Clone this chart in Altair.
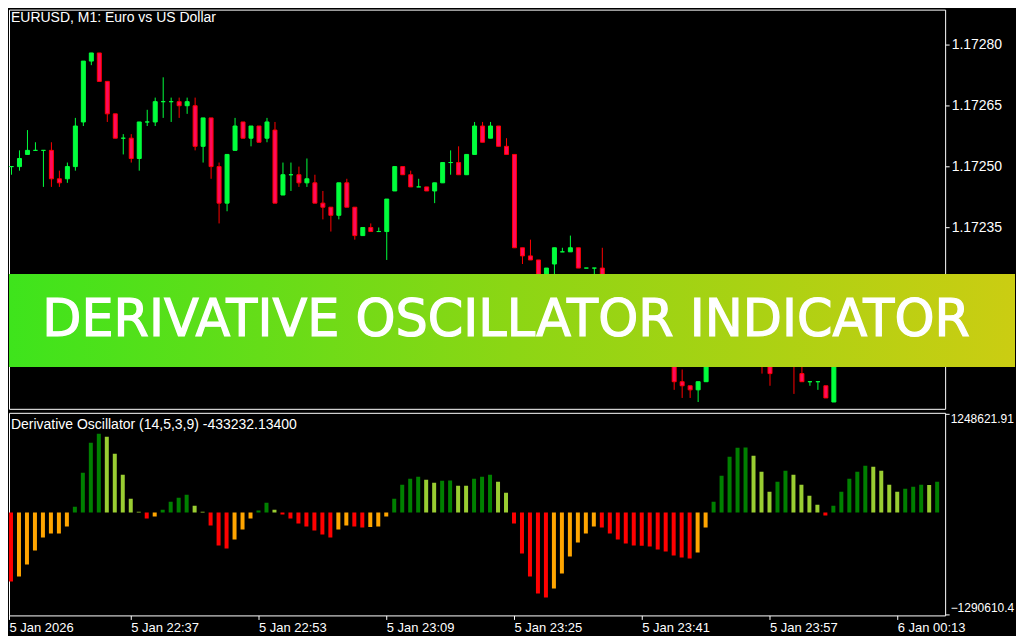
import altair as alt
import pandas as pd

# ---------------- data ----------------
time_labels = ["5 Jan 2026", "5 Jan 22:37", "5 Jan 22:53", "5 Jan 23:09",
               "5 Jan 23:25", "5 Jan 23:41", "5 Jan 23:57", "6 Jan 00:13"]

open_ = [1.17254,1.17250,1.17250,1.17253,1.17254,1.17254,1.17254,1.17247,1.17247,1.17250,
         1.17261,1.17276,1.17278,1.17271,1.17263,1.17257,1.17257,1.17252,1.17261,1.17261,
         1.17266,1.17266,1.17266,1.17265,1.17265,1.17255,1.17262,1.17250,1.17241,1.17254,
         1.17261,1.17257,1.17260,1.17257,1.17259,1.17243,1.17248,1.17248,1.17246,1.17246,
         1.17241,1.17240,1.17238,1.17246,1.17240,1.17233,1.17235,1.17234,1.17234,1.17244,
         1.17250,1.17248,1.17245,1.17245,1.17244,1.17246,1.17251,1.17251,1.17248,1.17253,
         1.17260,1.17257,1.17260,1.17255,1.17253,1.17230,1.17228,1.17227,1.17222,1.17226,
         1.17229,1.17229,1.17230,1.17225,1.17225,1.17225,1.17220,1.17218,1.17216,1.17214,
         1.17212,1.17213,1.17209,1.17206,1.17203,1.17197,1.17196,1.17195,1.17197,1.17206,
         1.17210,1.17214,1.17216,1.17215,1.17212,1.17208,1.17201,1.17201,1.17205,1.17204,
         1.17199,1.17197,1.17197,1.17196,1.17192,1.17207,1.17211,1.17214,1.17216,1.17218,
         1.17215,1.17213,1.17211,1.17212,1.17214,1.17215,1.17216,1.17214]

high_ = [1.17254,1.17250,1.17254,1.17259,1.17256,1.17254,1.17256,1.17249,1.17251,1.17262,
         1.17276,1.17278,1.17278,1.17271,1.17263,1.17258,1.17258,1.17261,1.17264,1.17267,
         1.17272,1.17267,1.17267,1.17267,1.17267,1.17262,1.17262,1.17251,1.17253,1.17262,
         1.17261,1.17260,1.17260,1.17262,1.17261,1.17251,1.17251,1.17250,1.17252,1.17248,
         1.17244,1.17240,1.17246,1.17247,1.17240,1.17235,1.17236,1.17235,1.17242,1.17250,
         1.17250,1.17249,1.17247,1.17245,1.17246,1.17251,1.17254,1.17255,1.17253,1.17261,
         1.17261,1.17261,1.17260,1.17257,1.17253,1.17230,1.17232,1.17227,1.17225,1.17230,
         1.17230,1.17233,1.17230,1.17225,1.17225,1.17230,1.17221,1.17219,1.17217,1.17215,
         1.17214,1.17213,1.17210,1.17207,1.17204,1.17200,1.17196,1.17197,1.17207,1.17211,
         1.17215,1.17217,1.17218,1.17217,1.17213,1.17209,1.17202,1.17206,1.17207,1.17205,
         1.17201,1.17197,1.17197,1.17196,1.17208,1.17212,1.17215,1.17217,1.17219,1.17219,
         1.17216,1.17214,1.17213,1.17215,1.17216,1.17217,1.17217,1.17218]

low_ = [1.17250,1.17248,1.17249,1.17253,1.17254,1.17245,1.17245,1.17245,1.17246,1.17249,
        1.17260,1.17275,1.17271,1.17261,1.17257,1.17253,1.17251,1.17249,1.17260,1.17260,
        1.17262,1.17261,1.17262,1.17263,1.17254,1.17251,1.17247,1.17236,1.17239,1.17254,
        1.17257,1.17255,1.17256,1.17256,1.17241,1.17243,1.17244,1.17245,1.17245,1.17241,
        1.17237,1.17234,1.17237,1.17240,1.17232,1.17233,1.17234,1.17234,1.17227,1.17244,
        1.17248,1.17245,1.17245,1.17244,1.17241,1.17246,1.17248,1.17248,1.17248,1.17253,
        1.17256,1.17257,1.17255,1.17253,1.17230,1.17226,1.17227,1.17221,1.17222,1.17223,
        1.17229,1.17229,1.17225,1.17225,1.17223,1.17219,1.17217,1.17215,1.17213,1.17211,
        1.17211,1.17208,1.17205,1.17203,1.17195,1.17193,1.17193,1.17192,1.17197,1.17205,
        1.17209,1.17212,1.17214,1.17211,1.17207,1.17199,1.17196,1.17201,1.17202,1.17194,
        1.17197,1.17196,1.17195,1.17193,1.17192,1.17206,1.17210,1.17213,1.17215,1.17214,
        1.17212,1.17210,1.17210,1.17211,1.17213,1.17214,1.17213,1.17214]

close_ = [1.17250,1.17250,1.17252,1.17254,1.17254,1.17254,1.17247,1.17246,1.17250,1.17260,
          1.17276,1.17278,1.17271,1.17263,1.17257,1.17257,1.17252,1.17261,1.17261,1.17266,
          1.17266,1.17266,1.17265,1.17266,1.17255,1.17262,1.17250,1.17241,1.17253,1.17260,
          1.17257,1.17260,1.17256,1.17261,1.17241,1.17248,1.17248,1.17246,1.17247,1.17241,
          1.17240,1.17238,1.17246,1.17240,1.17233,1.17235,1.17234,1.17234,1.17242,1.17250,
          1.17248,1.17245,1.17245,1.17244,1.17246,1.17251,1.17251,1.17248,1.17253,1.17260,
          1.17256,1.17260,1.17255,1.17253,1.17230,1.17228,1.17227,1.17222,1.17225,1.17230,
          1.17229,1.17230,1.17225,1.17225,1.17225,1.17220,1.17218,1.17216,1.17214,1.17212,
          1.17213,1.17209,1.17206,1.17203,1.17197,1.17196,1.17195,1.17197,1.17206,1.17210,
          1.17214,1.17216,1.17215,1.17212,1.17208,1.17201,1.17199,1.17205,1.17204,1.17201,
          1.17197,1.17197,1.17197,1.17193,1.17207,1.17211,1.17214,1.17216,1.17218,1.17215,
          1.17213,1.17211,1.17212,1.17214,1.17215,1.17216,1.17214,1.17217]

osc_values = [-842600,-871700,-808500,-656900,-480100,-315800,-265300,-262800,-176900,75800,
              505300,884300,998000,960100,745300,480100,176900,12600,-75800,-50500,
              37900,139000,189500,227400,88400,12600,-164200,-416900,-454800,-341100,
              -214800,-75800,25300,126300,37900,-25300,-75800,-139000,-176900,-227400,
              -277900,-315800,-214800,-164200,-176900,-189500,-183200,-176900,-50500,176900,
              353700,429500,454800,416900,379000,404300,406800,341100,338600,429500,
              454800,480100,391600,252700,-139000,-518000,-808500,-1023300,-1073800,-960100,
              -770600,-555900,-379000,-265300,-176900,-189500,-265300,-341100,-391600,-416900,
              -419400,-429500,-467400,-492700,-543200,-568500,-581100,-505300,-189500,139000,
              467400,707400,821100,823700,720100,518000,265300,391600,530600,480100,
              353700,214800,101100,-37900,88400,265300,429500,518000,593800,581100,
              530600,353700,265300,303200,328500,353700,351200,391600]

# U = rising above zero, D = falling above zero, R = falling below zero, O = rising below zero
osc_state = list("RROOOOOOOU" "UUUDDDDDRO" "UUUUDDRRRO" "OOUUDRRRRR"
                 "RROORROOOU" "UUUDDUUDDU" "UUDDRRRRRO" "OOOOORRRRR"
                 "RRRRRRROOU" "UUUUDDDUUD" "DDDRUUUUUD" "DDDUUUDU")

price_ticks = [1.17235, 1.17250, 1.17265, 1.17280]
osc_ticks = [1248621.91, -1290610.4]

chart_title = "EURUSD, M1:  Euro vs US Dollar"
sub_title = "Derivative Oscillator (14,5,3,9) -433232.13400"
banner_title = "DERIVATIVE OSCILLATOR INDICATOR"

# ---------------- tables ----------------
n = len(open_)
df = pd.DataFrame({"i": list(range(n)), "open": open_, "high": high_,
                   "low": low_, "close": close_})
df["dir"] = ["bull" if c >= o else "bear" for o, c in zip(open_, close_)]
df["body_lo"] = df[["open", "close"]].min(axis=1)
df["body_hi"] = df[["open", "close"]].max(axis=1)

osc_df = pd.DataFrame({"i": list(range(n)), "osc": osc_values, "state": osc_state})

# ---------------- styling ----------------
BULL = "#00ff3c"
BEAR_FILL = "#ff0a5c"
BEAR_LINE = "#ff0000"
FONT = "Liberation Sans"

x_scale = alt.Scale(domain=[0.75, 118], nice=False, zero=False)
p_scale = alt.Scale(domain=[1.1719032, 1.1728868], nice=False, zero=False)
o_scale = alt.Scale(domain=[-1301200, 1263300], nice=False, zero=False)

price_axis = alt.Axis(orient="right", values=price_ticks, format=".5f", title=None,
                      tickSize=4, labelPadding=2, labelFontSize=14)

def py(field):
    return alt.Y(field, type="quantitative", scale=p_scale, axis=price_axis, title=None)

wicks = alt.Chart(df).mark_rule(xOffset=0.5, strokeWidth=1, clip=True).encode(
    x=alt.X("i:Q", scale=x_scale, axis=None),
    y=py("low"),
    y2="high:Q",
    color=alt.Color("dir:N", scale=alt.Scale(domain=["bull", "bear"], range=[BULL, BEAR_LINE]),
                    legend=None),
)

bodies = alt.Chart(df).mark_rect(xOffset=-1.5, x2Offset=2.5, strokeWidth=1, clip=True).encode(
    x=alt.X("i:Q", scale=x_scale, axis=None),
    x2="i:Q",
    y=py("body_lo"),
    y2="body_hi:Q",
    fill=alt.Fill("dir:N", scale=alt.Scale(domain=["bull", "bear"], range=[BULL, BEAR_FILL]),
                  legend=None),
    stroke=alt.Stroke("dir:N", scale=alt.Scale(domain=["bull", "bear"], range=[BULL, BEAR_LINE]),
                      legend=None),
)

title_txt = alt.Chart(pd.DataFrame({"t": [chart_title]})).mark_text(
    align="left", baseline="top", font=FONT, fontSize=14, color="white", clip=True
).encode(text="t:N", x=alt.value(2), y=alt.value(1))

banner = alt.Chart(pd.DataFrame({"t": [banner_title]})).mark_rect(
    color=alt.Gradient(gradient="linear", x1=0, x2=1, y1=0, y2=0,
                       stops=[alt.GradientStop(color="#3ee41c", offset=0),
                              alt.GradientStop(color="#8cd614", offset=0.5),
                              alt.GradientStop(color="#cbcd12", offset=1)])
).encode(x=alt.value(0), x2=alt.value(1008), y=alt.value(265), y2=alt.value(358))

banner_txt = alt.Chart(pd.DataFrame({"t": [banner_title]})).mark_text(
    align="center", baseline="alphabetic", font="DejaVu Sans", fontSize=51,
    color="white", stroke="white", strokeWidth=1.2
).encode(text="t:N", x=alt.value(498), y=alt.value(327))

top = alt.layer(wicks, bodies, title_txt, banner, banner_txt).properties(width=938, height=400)

x_label_expr = "[" + ",".join("'" + s + "'" for s in time_labels) + "][floor(datum.value / 16)]"
x_axis = alt.Axis(values=[0.75, 16, 32, 48, 64, 80, 96, 112], labelExpr=x_label_expr,
                  labelAlign="left", labelBaseline="top", tickSize=4, labelPadding=2,
                  labelFontSize=13, labelFlush=False, title=None)

osc_axis = alt.Axis(orient="right", values=osc_ticks, title=None, tickSize=4, labelPadding=1,
                    labelFontSize=12,
                    labelExpr="datum.value > 0 ? format(datum.value, '.2f') : format(datum.value, '.1f')",
                    labelBaseline={"condition": {"test": "datum.value > 0", "value": "top"},
                                   "value": "bottom"})

hist = alt.Chart(osc_df).mark_rect(xOffset=-2, x2Offset=2, clip=True).encode(
    x=alt.X("i:Q", scale=x_scale, axis=x_axis),
    x2="i:Q",
    y=alt.Y("osc:Q", scale=o_scale, axis=osc_axis, title=None),
    y2=alt.datum(0),
    color=alt.Color("state:N", scale=alt.Scale(domain=["U", "D", "R", "O"],
                                               range=["#008000", "#9acd32", "#ff0000", "#ffa500"]),
                    legend=None),
)

sub_txt = alt.Chart(pd.DataFrame({"t": [sub_title]})).mark_text(
    align="left", baseline="middle", font=FONT, fontSize=14, color="white"
).encode(text="t:N", x=alt.value(2), y=alt.value(12))

bottom = alt.layer(hist, sub_txt).properties(width=938, height=203)

chart = alt.vconcat(top, bottom, spacing=2).resolve_scale(
    color="independent", fill="independent", stroke="independent"
).properties(
    background="black", padding=0
).configure_view(
    stroke="white", strokeWidth=1, fill="black"
).configure_axis(
    labelColor="white", tickColor="white", domain=False, grid=False,
    labelFont=FONT, labelFontSize=14
)

chart.save("out.html", embed_options={"renderer": "svg", "actions": False})
